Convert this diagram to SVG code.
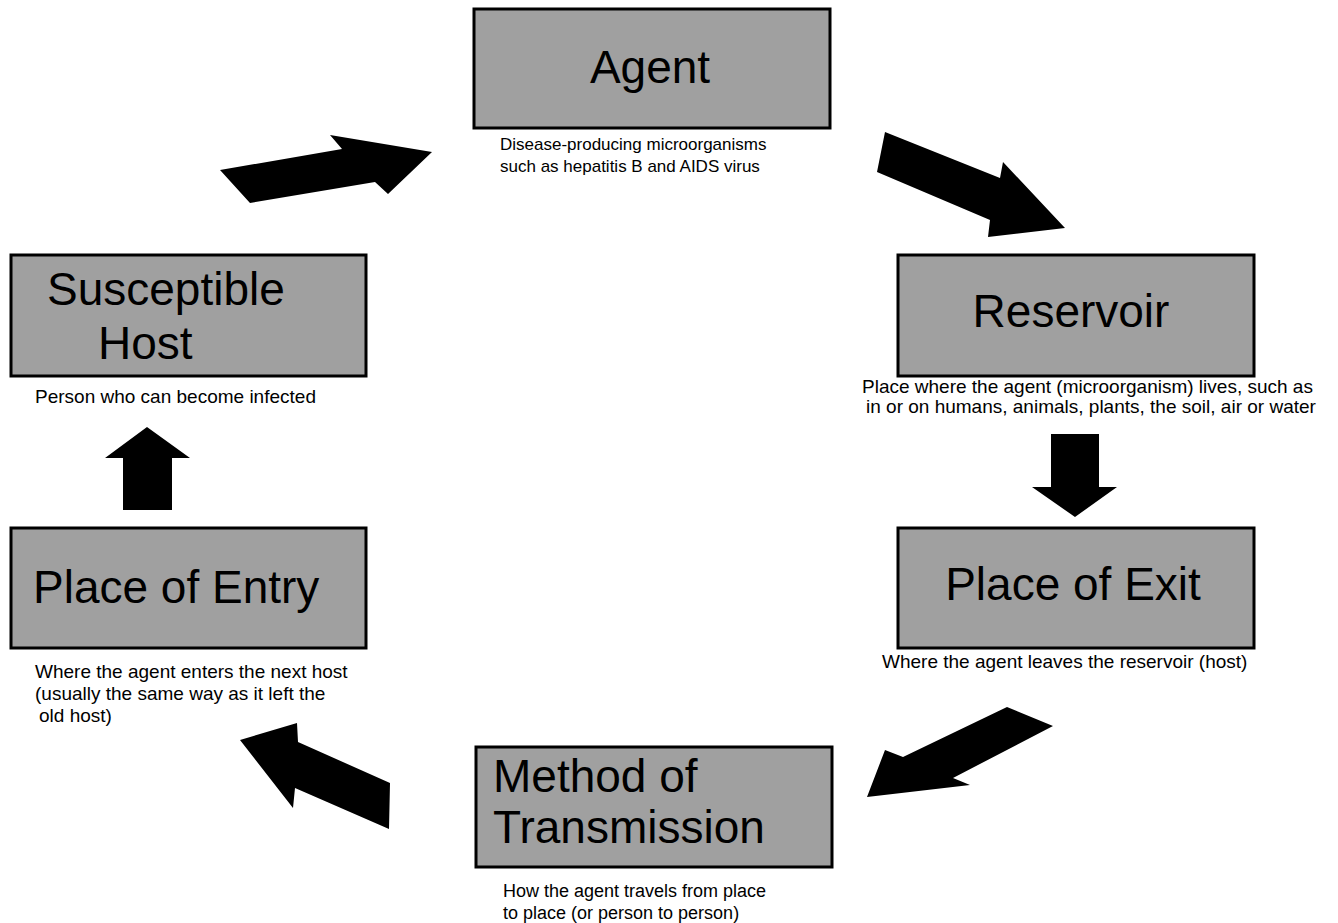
<svg xmlns="http://www.w3.org/2000/svg" width="1338" height="923" viewBox="0 0 1338 923">
<style>
.box{fill:#a0a0a0;stroke:#000;stroke-width:3}
.t{font-family:"Liberation Sans",Arial,sans-serif;font-size:46px;fill:#000}
.d{font-family:"Liberation Sans",Arial,sans-serif;font-size:19px;fill:#000}
.arr{fill:#000}
</style>
<rect width="1338" height="923" fill="#fff"/>
<g id="agent">
<rect class="box" x="474" y="9" width="356" height="119"/>
<text class="t" x="650" y="83" text-anchor="middle">Agent</text>
<text class="d" x="500" y="150" style="font-size:17px">Disease-producing microorganisms</text>
<text class="d" x="500" y="172" style="font-size:17px">such as hepatitis B and AIDS virus</text>
</g>
<g id="reservoir">
<rect class="box" x="898" y="255" width="356" height="121"/>
<text class="t" x="1071" y="327" text-anchor="middle">Reservoir</text>
<text class="d" x="862" y="393">Place where the agent (microorganism) lives, such as</text>
<text class="d" x="866" y="413">in or on humans, animals, plants, the soil, air or water</text>
</g>
<g id="exit">
<rect class="box" x="898" y="528" width="356" height="120"/>
<text class="t" x="1073" y="600" text-anchor="middle">Place of Exit</text>
<text class="d" x="882" y="668">Where the agent leaves the reservoir (host)</text>
</g>
<g id="transmission">
<rect class="box" x="476" y="747" width="356" height="120"/>
<text class="t" x="493" y="792">Method of</text>
<text class="t" x="493" y="843">Transmission</text>
<text class="d" x="503" y="897" style="font-size:18px">How the agent travels from place</text>
<text class="d" x="503" y="919" style="font-size:18px">to place (or person to person)</text>
</g>
<g id="entry">
<rect class="box" x="11" y="528" width="355" height="120"/>
<text class="t" x="33" y="603">Place of Entry</text>
<text class="d" x="35" y="678">Where the agent enters the next host</text>
<text class="d" x="35" y="700">(usually the same way as it left the</text>
<text class="d" x="39" y="722">old host)</text>
</g>
<g id="host">
<rect class="box" x="11" y="255" width="355" height="121"/>
<text class="t" x="47" y="305">Susceptible</text>
<text class="t" x="98" y="359">Host</text>
<text class="d" x="35" y="403">Person who can become infected</text>
</g>
<g id="connectors">
<polygon class="arr" points="220,170 342,149 330,135 432,152 388,194 375,182 250,203"/>
<polygon class="arr" points="885,132 1000,178 1003,162 1065,228 988,237 990,220 877,172"/>
<polygon class="arr" points="1051,434 1099,434 1099,487 1117,487 1075,517 1032,487 1051,487"/>
<polygon class="arr" points="1007,707 1053,726 953,778 970,785 867,797 885,750 903,757"/>
<polygon class="arr" points="240,740 297,723 298,742 390,783 389,829 295,788 293,808"/>
<polygon class="arr" points="147,427 190,458 172,458 172,510 123,510 123,458 105,458"/>
</g>
</svg>
